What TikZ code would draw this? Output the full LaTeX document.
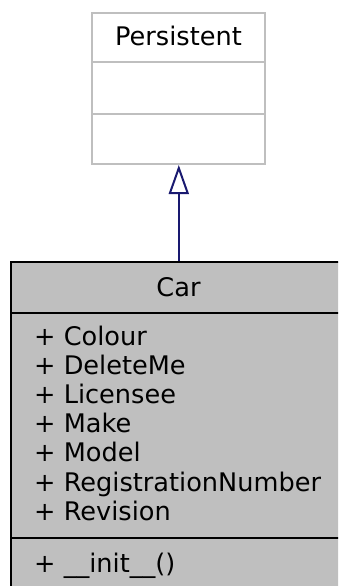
\documentclass[tikz,border=0pt]{standalone}
\usepackage{fontspec}
\setmainfont{DejaVu Sans}
\usetikzlibrary{arrows.meta}
\definecolor{boxgray}{HTML}{BFBFBF}
\definecolor{edgeblue}{HTML}{191970}
\begin{document}
\begin{tikzpicture}[x=1pt,y=-1pt,
  lbl/.style={font=\fontsize{25.6}{29.2}\selectfont, inner sep=0pt, anchor=base},
  attr/.style={font=\fontsize{25.6}{29.2}\selectfont, inner sep=0pt, anchor=base west},
  parentbox/.style={draw=boxgray, line width=2pt, fill=white},
  childbox/.style={draw=black, line width=2pt, fill=boxgray},
  inherit/.style={draw=edgeblue, line width=2pt, -{Triangle[open, width=20pt, length=29pt, line width=2pt]}}]
\clip (0,0) rectangle (338,586);
\fill[white] (0,0) rectangle (338,586);
% Persistent
\draw[parentbox] (92,13) rectangle (265,164);
\draw[boxgray, line width=2pt] (92,62.5) -- (265,62.5);
\draw[boxgray, line width=2pt] (92,113.5) -- (265,113.5);
\node[lbl] (pname) at (178.5,46) {Persistent};
\coordinate (pbot) at (178.8,165);
% Car
\draw[childbox] (11,262) rectangle (345,600);
\draw[black, line width=2pt] (11,313) -- (345,313);
\draw[black, line width=2pt] (11,538) -- (345,538);
\node[lbl] (cname) at (178.5,296) {Car};
\coordinate (ctop) at (178.8,261);
\node[attr] (a1) at (34,345.0) {+ Colour};
\node[attr] (a2) at (34,374.2) {+ DeleteMe};
\node[attr] (a3) at (34,403.4) {+ Licensee};
\node[attr] (a4) at (34,432.6) {+ Make};
\node[attr] (a5) at (34,461.8) {+ Model};
\node[attr] (a6) at (34,491.0) {+ RegistrationNumber};
\node[attr] (a7) at (34,520.2) {+ Revision};
\node[attr] (ops) at (34,572) {+ \_\_init\_\_()};
\draw[inherit] (ctop) -- (pbot);
\end{tikzpicture}
\end{document}
